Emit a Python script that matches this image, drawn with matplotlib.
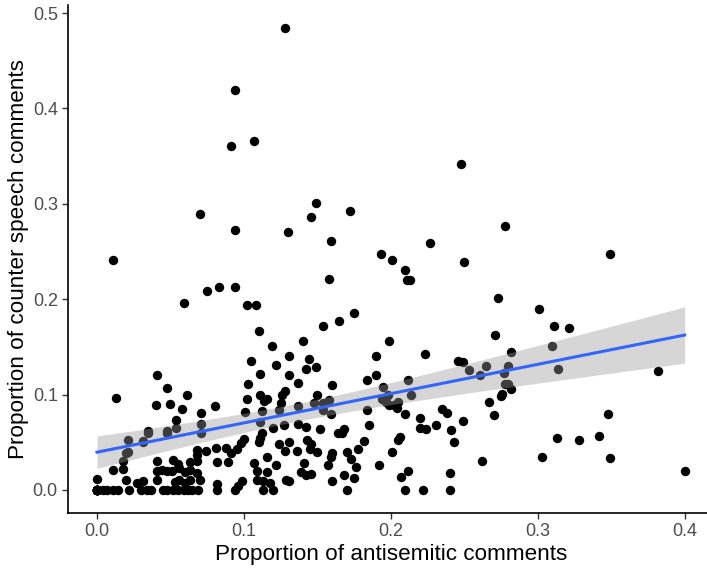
import matplotlib
matplotlib.use('Agg')
import matplotlib.pyplot as plt
import numpy as np

plt.rcParams['font.family'] = ['Liberation Sans', 'DejaVu Sans']

# upper part of the cloud
x_high = [0.128, 0.094, 0.091, 0.107, 0.248,
          0.011, 0.070, 0.094, 0.130, 0.075, 0.083, 0.094, 0.059, 0.102, 0.108, 0.110, 0.119, 0.140,
          0.149, 0.146, 0.172, 0.159, 0.2265, 0.278, 0.193, 0.201, 0.2095, 0.211, 0.213, 0.250,
          0.158, 0.273, 0.175, 0.165, 0.154, 0.199, 0.271,
          0.349, 0.301, 0.311, 0.321, 0.310]
y_high = [0.484, 0.419, 0.361, 0.366, 0.342,
          0.241, 0.289, 0.273, 0.270, 0.209, 0.213, 0.213, 0.196, 0.194, 0.194, 0.167, 0.151, 0.156,
          0.301, 0.286, 0.292, 0.261, 0.259, 0.277, 0.247, 0.241, 0.231, 0.220, 0.220, 0.239,
          0.221, 0.201, 0.186, 0.177, 0.172, 0.156, 0.162,
          0.247, 0.190, 0.172, 0.170, 0.151]

# right side, x > 0.26
x_right = [0.282, 0.265, 0.280, 0.277, 0.314, 0.382, 0.261, 0.278, 0.280, 0.282, 0.276, 0.275,
           0.267, 0.270, 0.348, 0.313, 0.328, 0.342, 0.262, 0.303, 0.349, 0.400]
y_right = [0.145, 0.130, 0.130, 0.123, 0.127, 0.125, 0.121, 0.111, 0.111, 0.106, 0.101, 0.098,
           0.092, 0.079, 0.080, 0.054, 0.052, 0.057, 0.030, 0.035, 0.033, 0.020]

# middle, x 0.16 - 0.26
x_mid = [0.190, 0.223, 0.246, 0.249, 0.253, 0.190, 0.184, 0.212, 0.195, 0.198, 0.194, 0.197,
         0.199, 0.202, 0.205, 0.204, 0.214, 0.184, 0.210, 0.235, 0.238, 0.220, 0.249, 0.185,
         0.220, 0.224, 0.231, 0.241, 0.243, 0.168, 0.167, 0.206, 0.205, 0.182, 0.178, 0.170,
         0.201, 0.173, 0.176, 0.192, 0.212, 0.207, 0.168, 0.175, 0.240,
         0.170, 0.210, 0.222, 0.240]
y_mid = [0.140, 0.142, 0.135, 0.134, 0.126, 0.120, 0.115, 0.115, 0.108, 0.100, 0.095, 0.092,
         0.089, 0.089, 0.092, 0.086, 0.100, 0.084, 0.080, 0.085, 0.081, 0.075, 0.072, 0.068,
         0.065, 0.064, 0.068, 0.063, 0.050, 0.064, 0.060, 0.055, 0.052, 0.051, 0.043, 0.040,
         0.040, 0.032, 0.024, 0.026, 0.020, 0.014, 0.016, 0.013, 0.018,
         0.0, 0.0, 0.0, 0.0]

# x 0.07 - 0.16, above the crowded bottom rows
x_low = [0.105, 0.122, 0.131, 0.144, 0.142, 0.149, 0.111, 0.131, 0.103, 0.137, 0.160, 0.128,
         0.126, 0.111, 0.150, 0.102, 0.114, 0.116, 0.125, 0.148, 0.154, 0.158, 0.137, 0.154,
         0.159, 0.112, 0.124, 0.101, 0.080, 0.111, 0.120, 0.127, 0.137, 0.142, 0.152, 0.100,
         0.098, 0.112, 0.111, 0.110, 0.164, 0.124, 0.131, 0.143, 0.146, 0.145, 0.150, 0.160,
         0.159, 0.128, 0.136, 0.074, 0.081, 0.088, 0.091, 0.095, 0.116,
         0.141, 0.139, 0.142, 0.146, 0.157, 0.131, 0.160]
y_low = [0.135, 0.131, 0.140, 0.137, 0.127, 0.129, 0.122, 0.120, 0.111, 0.112, 0.110, 0.104,
         0.100, 0.100, 0.100, 0.095, 0.093, 0.095, 0.091, 0.091, 0.091, 0.094, 0.088, 0.084,
         0.080, 0.083, 0.084, 0.082, 0.088, 0.071, 0.065, 0.068, 0.069, 0.066, 0.064, 0.053,
         0.049, 0.060, 0.054, 0.050, 0.060, 0.048, 0.050, 0.052, 0.048, 0.043, 0.040, 0.039,
         0.035, 0.041, 0.041, 0.041, 0.044, 0.044, 0.039, 0.043, 0.035,
         0.028, 0.019, 0.016, 0.017, 0.026, 0.009, 0.009]

# x < 0.07, above the crowded bottom rows
x_left = [0.041, 0.013, 0.048, 0.061, 0.040, 0.050, 0.058, 0.054, 0.054, 0.071, 0.071, 0.071,
          0.035, 0.048, 0.021, 0.031, 0.021, 0.068, 0.068, 0.020, 0.031, 0.035, 0.048]
y_left = [0.121, 0.096, 0.107, 0.100, 0.089, 0.090, 0.085, 0.073, 0.065, 0.081, 0.069, 0.060,
          0.062, 0.062, 0.052, 0.051, 0.040, 0.042, 0.037, 0.039, 0.050, 0.060, 0.060]

# crowded bottom rows, x < 0.13
x_row0 = [0.000, 0.004, 0.007, 0.011, 0.014, 0.022, 0.030, 0.034, 0.037, 0.045, 0.048, 0.052,
          0.055, 0.059, 0.062, 0.065, 0.069, 0.082, 0.094, 0.113, 0.120]
y_row0 = [0.0] * len(x_row0)
x_row1 = [0.000, 0.020, 0.027, 0.031, 0.041, 0.053, 0.056, 0.060, 0.063, 0.070, 0.082, 0.096,
          0.099, 0.109, 0.113, 0.118, 0.129]
y_row1 = [0.011, 0.010, 0.007, 0.009, 0.010, 0.008, 0.010, 0.007, 0.010, 0.010, 0.006, 0.004,
          0.009, 0.010, 0.009, 0.007, 0.010]
x_row2 = [0.011, 0.018, 0.041, 0.044, 0.048, 0.051, 0.056, 0.060, 0.063, 0.068, 0.109, 0.116]
y_row2 = [0.021, 0.022, 0.020, 0.021, 0.020, 0.020, 0.023, 0.019, 0.021, 0.018, 0.020, 0.019]
x_row3 = [0.018, 0.041, 0.052, 0.055, 0.063, 0.068, 0.082, 0.089, 0.107, 0.122]
y_row3 = [0.030, 0.030, 0.031, 0.027, 0.029, 0.030, 0.029, 0.029, 0.028, 0.026]

# pages with 0 / 0, all drawn on top of each other at the origin
# (count inferred from where the fitted line sits)
x_origin = [0.0] * 13
y_origin = [0.0] * 13

x = np.array(x_high + x_right + x_mid + x_low + x_left + x_row0 + x_row1 + x_row2 + x_row3 + x_origin)
y = np.array(y_high + y_right + y_mid + y_low + y_left + y_row0 + y_row1 + y_row2 + y_row3 + y_origin)

# linear fit + 95% band like geom_smooth(method='lm')
n = len(x)
b1, b0 = np.polyfit(x, y, 1)
resid = y - (b0 + b1 * x)
s = np.sqrt(np.sum(resid ** 2) / (n - 2))
sxx = np.sum((x - x.mean()) ** 2)
xs = np.linspace(x.min(), x.max(), 80)
fit = b0 + b1 * xs
se = s * np.sqrt(1.0 / n + (xs - x.mean()) ** 2 / sxx)
t = 1.968

fig = plt.figure(figsize=(7.07, 5.71), dpi=100)
ax = fig.add_axes([0.0956, 0.1016, 0.9143, 0.8889])

ax.scatter(x, y, s=46, color='black', linewidths=0, zorder=2)
ax.fill_between(xs, fit - t * se, fit + t * se, color='#999999', alpha=0.4, linewidth=0, zorder=3)
ax.plot(xs, fit, color='#3366FF', lw=2.2, zorder=4)

ax.set_xlim(-0.02, 0.42)
ax.set_ylim(-0.0242, 0.508)
ax.set_xticks([0.0, 0.1, 0.2, 0.3, 0.4])
ax.set_yticks([0.0, 0.1, 0.2, 0.3, 0.4, 0.5])
ax.set_xticklabels(['0.0', '0.1', '0.2', '0.3', '0.4'])
ax.set_yticklabels(['0.0', '0.1', '0.2', '0.3', '0.4', '0.5'])

for side in ['top', 'right']:
    ax.spines[side].set_visible(False)
for side in ['left', 'bottom']:
    ax.spines[side].set_linewidth(1.2)
    ax.spines[side].set_color('black')

ax.tick_params(length=4, width=1, color='#333333', labelcolor='#4D4D4D', labelsize=13, pad=3)
ax.set_xlabel('Proportion of antisemitic comments', fontsize=16.2, labelpad=3)
ax.set_ylabel('Proportion of counter speech comments', fontsize=16.2, labelpad=2.5)

fig.savefig('out.png', dpi=100)
